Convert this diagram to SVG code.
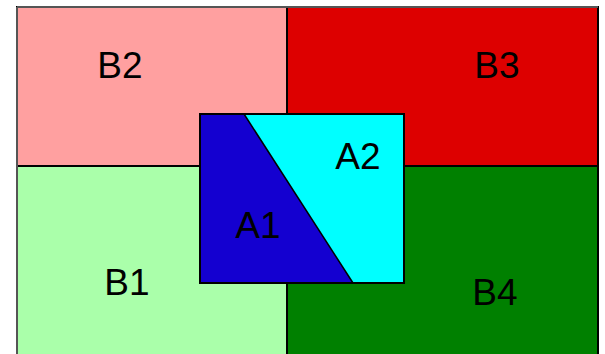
<svg xmlns="http://www.w3.org/2000/svg" width="605" height="354" viewBox="0 0 605 354">
<style>
.r{stroke:#000;stroke-width:2}
.t{font-family:"Liberation Sans",Arial,sans-serif;font-size:37px;fill:#000;text-anchor:middle}
</style>
<rect width="605" height="354" fill="#fff"/>
<g id="B2"><rect class="r" x="17" y="7" width="270" height="159" fill="#FFA0A0"/><text class="t" x="120" y="78">B2</text></g>
<g id="B3"><rect class="r" x="287" y="7" width="311" height="159" fill="#DD0000"/><text class="t" x="497" y="78">B3</text></g>
<g id="B1"><rect class="r" x="17" y="166" width="270" height="200" fill="#AAFFAA"/><text class="t" x="127" y="295">B1</text></g>
<g id="B4"><rect class="r" x="287" y="166" width="311" height="200" fill="#008000"/><text class="t" x="495" y="305">B4</text></g>
<line x1="17" y1="7" x2="598" y2="7" stroke="#555" stroke-width="2"/>
<line x1="17" y1="7" x2="17" y2="354" stroke="#555" stroke-width="2"/>
<g id="A2"><rect x="200" y="114" width="204" height="169" fill="#00FFFF"/><text class="t" x="358" y="169">A2</text></g>
<g id="A1"><polygon points="200,114 244,114 353,283 200,283" fill="#1400D0" stroke="#000" stroke-width="1.5" stroke-linejoin="round"/><text class="t" x="258" y="238">A1</text></g>
<rect class="r" x="200" y="114" width="204" height="169" fill="none"/>
</svg>
